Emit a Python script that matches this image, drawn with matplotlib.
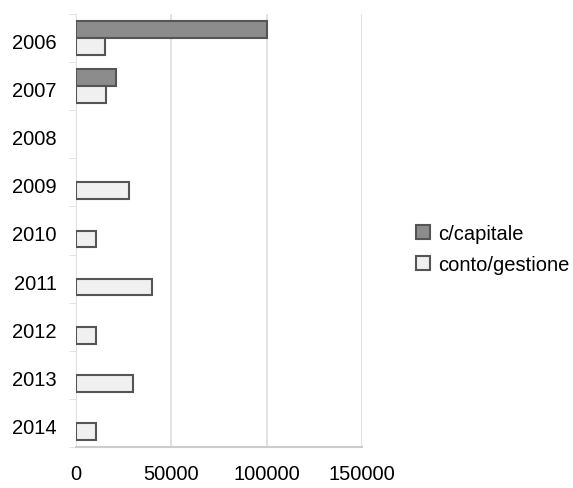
import matplotlib
matplotlib.use("Agg")
import matplotlib.pyplot as plt
import numpy as np

plt.rcParams['font.family'] = ['Liberation Sans', 'DejaVu Sans']

years = ['2006', '2007', '2008', '2009', '2010', '2011', '2012', '2013', '2014']
capitale = [100000, 21000, 0, 0, 0, 0, 0, 0, 0]
gestione = [15000, 16000, 0, 28000, 10500, 40000, 10500, 30000, 10500]
xticks = [0, 50000, 100000, 150000]

fig = plt.figure(figsize=(5.73, 4.89), dpi=100)
ax = fig.add_axes([0.1326, 0.0838, 0.4992, 0.8855])

y = np.arange(len(years))
h = 0.35
cap_mask = np.array(capitale) > 0
gest_mask = np.array(gestione) > 0
ax.barh(y[cap_mask] - h / 2, np.array(capitale)[cap_mask], height=h,
        color='#8c8c8c', edgecolor='#555555', linewidth=1.5, label='c/capitale', zorder=3)
ax.barh(y[gest_mask] + h / 2, np.array(gestione)[gest_mask], height=h,
        color='#f0f0f0', edgecolor='#555555', linewidth=1.5, label='conto/gestione', zorder=3)

ax.set_ylim(len(years) - 0.5, -0.5)
ax.set_xlim(0, 150000)
ax.set_yticks(y + 0.05)
ax.set_yticklabels(years, fontsize=14.5)
ax.set_xticks(xticks)
ax.set_xticklabels([str(v) for v in xticks], fontsize=14.5)
ax.set_yticks(np.arange(len(years) + 1) - 0.5, minor=True)
ax.tick_params(axis='y', which='major', length=0, pad=14)
ax.tick_params(axis='y', which='minor', length=5, color='#dddddd')
ax.tick_params(axis='x', length=0, pad=12)

ax.grid(axis='x', color='#dddddd', linewidth=1.2, zorder=0)
for s in ['top', 'right']:
    ax.spines[s].set_visible(False)
ax.spines['left'].set_color('#e0e0e0')
ax.spines['bottom'].set_color('#cccccc')
ax.spines['bottom'].set_linewidth(1.5)

leg = fig.legend(loc='center left', bbox_to_anchor=(0.695, 0.488), frameon=False,
                 fontsize=14.5, handlelength=0.7, handleheight=0.7, handletextpad=0.4,
                 labelspacing=0.6)

fig.savefig('out.png', dpi=100)
